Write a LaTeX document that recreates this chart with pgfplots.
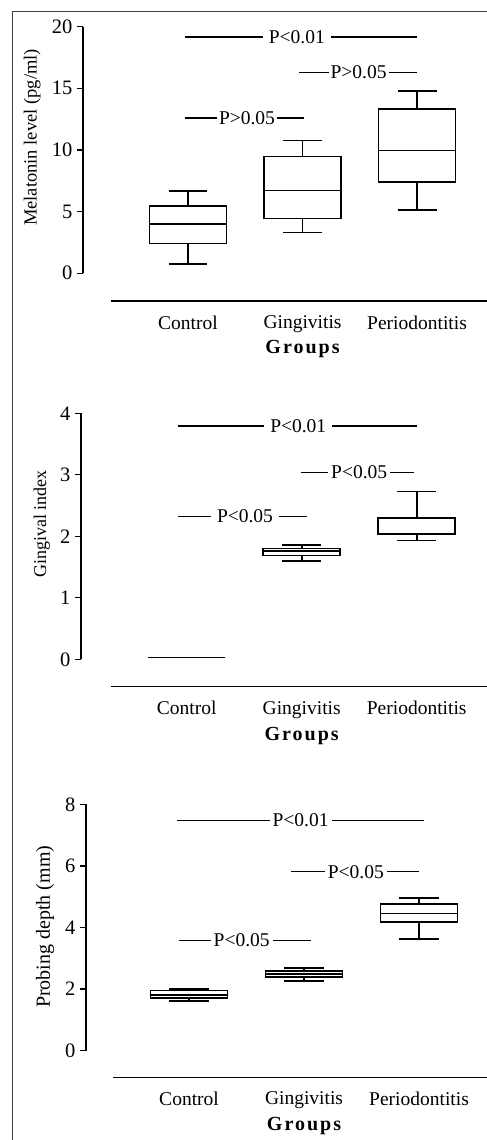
\documentclass[border=0pt]{standalone}
\usepackage{fontspec}
\setmainfont{Liberation Serif}
\usepackage{pgfplots}
\pgfplotsset{compat=1.18}
\usepgfplotslibrary{statistics}

\pgfplotsset{
  panel/.style={
    scale only axis,
    anchor=south west,
    axis x line=bottom, axis y line=left,
    xtick={0,1,2}, xticklabels={Control,Gingivitis,Periodontitis},
    xticklabel style={font=\fontsize{19.5}{22}\selectfont, yshift=-5pt},
    major x tick style={draw=none},
    tick align=outside,
    major tick length=6pt,
    ytick style={line width=1.4pt, black},
    yticklabel style={font=\fontsize{20.5}{24}\selectfont, xshift=-1pt},
    /pgf/number format/assume math mode=true,
    clip=false,
    boxplot/draw direction=y,
    boxplot/every median/.style={line width=1.6pt},
    boxplot/every box/.style={line width=1.6pt},
    boxplot/every whisker/.style={line width=1.6pt},
  },
  bx/.style={black, line width=1.6pt, mark=none, solid,
    boxplot prepared={box extend=0.67, whisker extend=0.34, #1}},
}
\tikzset{
  sig/.style={line width=1.5pt},
  ptxt/.style={fill=white, inner xsep=6pt, inner ysep=1pt, font=\fontsize{19.5}{22}\selectfont},
  grp/.style={font=\bfseries\fontsize{20}{22}\selectfont\addfontfeature{LetterSpace=10}},
}

\begin{document}
\begin{tikzpicture}
\useasboundingbox (0pt,0pt) rectangle (487pt,1140pt);
\fill[white] (0pt,0pt) rectangle (487pt,1140pt);
\draw[line width=0.8pt, black!75] (12pt,0pt) -- (12pt,1129pt) -- (487pt,1129pt);

% ---------- Panel 1: Melatonin ----------
\begin{axis}[panel,
  at={(83pt,839pt)}, width=404pt, height=274.3pt,
  xmin=-0.917, xmax=2.611, ymin=-2.25, ymax=20,
  ytick={0,5,10,15,20},
  x axis line style={-, line width=1.4pt, shorten <=28pt},
  y axis line style={-, line width=1.4pt, shorten <=27.7pt},
]
\addplot[bx={draw position=0, lower whisker=0.73, lower quartile=2.41, median=4.0, upper quartile=5.46, upper whisker=6.68}] coordinates {};
\addplot[bx={draw position=1, lower whisker=3.32, lower quartile=4.43, median=6.7, upper quartile=9.46, upper whisker=10.78}] coordinates {};
\addplot[bx={draw position=2, lower whisker=5.14, lower quartile=7.4, median=9.97, upper quartile=13.3, upper whisker=14.78}] coordinates {};
\draw[sig] (axis cs:-0.03,19.16) -- (axis cs:2,19.16);
\node[ptxt] at (axis cs:0.95,19.16) {P<0.01};
\draw[sig] (axis cs:0.97,16.3) -- (axis cs:2,16.3);
\node[ptxt, inner xsep=2pt] at (axis cs:1.49,16.3) {P>0.05};
\draw[sig] (axis cs:-0.03,12.6) -- (axis cs:1.013,12.6);
\node[ptxt, inner xsep=2pt] at (axis cs:0.515,12.6) {P>0.05};
\node[grp, yshift=-48pt] at (axis cs:1,-2.25) {Groups};
\end{axis}
\node[rotate=90, font=\fontsize{18.5}{20}\selectfont] at (32.3pt,1002.5pt) {Melatonin level (pg/ml)};

% ---------- Panel 2: Gingival index ----------
\begin{axis}[panel,
  at={(81pt,453.3pt)}, width=406pt, height=273.4pt,
  xmin=-0.919, xmax=2.611, ymin=-0.4455, ymax=4,
  ytick={0,1,2,3,4},
  x axis line style={-, line width=1.4pt, shorten <=30pt},
  y axis line style={-, line width=1.4pt, shorten <=27.4pt},
]
\addplot[bx={draw position=0, lower whisker=0.03, lower quartile=0.03, median=0.03, upper quartile=0.03, upper whisker=0.03}] coordinates {};
\addplot[bx={draw position=1, lower whisker=1.60, lower quartile=1.69, median=1.76, upper quartile=1.80, upper whisker=1.86}] coordinates {};
\addplot[bx={draw position=2, lower whisker=1.93, lower quartile=2.03, median=2.04, upper quartile=2.30, upper whisker=2.73}] coordinates {};
\draw[sig] (axis cs:-0.076,3.79) -- (axis cs:2,3.79);
\node[ptxt] at (axis cs:0.97,3.79) {P<0.01};
\draw[sig] (axis cs:0.99,3.04) -- (axis cs:1.98,3.04);
\node[ptxt, inner xsep=3pt] at (axis cs:1.5,3.04) {P<0.05};
\draw[sig] (axis cs:-0.076,2.32) -- (axis cs:1.05,2.32);
\node[ptxt] at (axis cs:0.507,2.32) {P<0.05};
\node[grp, yshift=-49pt] at (axis cs:1,-0.4455) {Groups};
\end{axis}
\node[rotate=90, font=\fontsize{18}{20}\selectfont] at (41.7pt,616.2pt) {Gingival index};

% ---------- Panel 3: Probing depth ----------
\begin{axis}[panel,
  at={(86pt,62.7pt)}, width=401pt, height=273pt,
  xmin=-0.896, xmax=2.591, ymin=-0.864, ymax=8,
  ytick={0,2,4,6,8},
  x axis line style={-, line width=1.4pt, shorten <=27pt},
  y axis line style={-, line width=1.4pt, shorten <=26.6pt},
]
\addplot[bx={draw position=0, lower whisker=1.61, lower quartile=1.71, median=1.81, upper quartile=1.95, upper whisker=2.0}] coordinates {};
\addplot[bx={draw position=1, lower whisker=2.26, lower quartile=2.40, median=2.49, upper quartile=2.59, upper whisker=2.69}] coordinates {};
\addplot[bx={draw position=2, lower whisker=3.62, lower quartile=4.17, median=4.45, upper quartile=4.76, upper whisker=4.95}] coordinates {};
\draw[sig] (axis cs:-0.104,7.47) -- (axis cs:2.04,7.47);
\node[ptxt, inner xsep=3pt] at (axis cs:0.97,7.47) {P<0.01};
\draw[sig] (axis cs:0.887,5.81) -- (axis cs:2.0,5.81);
\node[ptxt, inner xsep=3pt] at (axis cs:1.45,5.81) {P<0.05};
\draw[sig] (axis cs:-0.087,3.58) -- (axis cs:1.06,3.58);
\node[ptxt, inner xsep=3pt] at (axis cs:0.458,3.58) {P<0.05};
\node[grp, yshift=-49pt] at (axis cs:1,-0.864) {Groups};
\end{axis}
\node[rotate=90, font=\fontsize{20}{22}\selectfont] at (45pt,213.3pt) {Probing depth (mm)};
\end{tikzpicture}
\end{document}
